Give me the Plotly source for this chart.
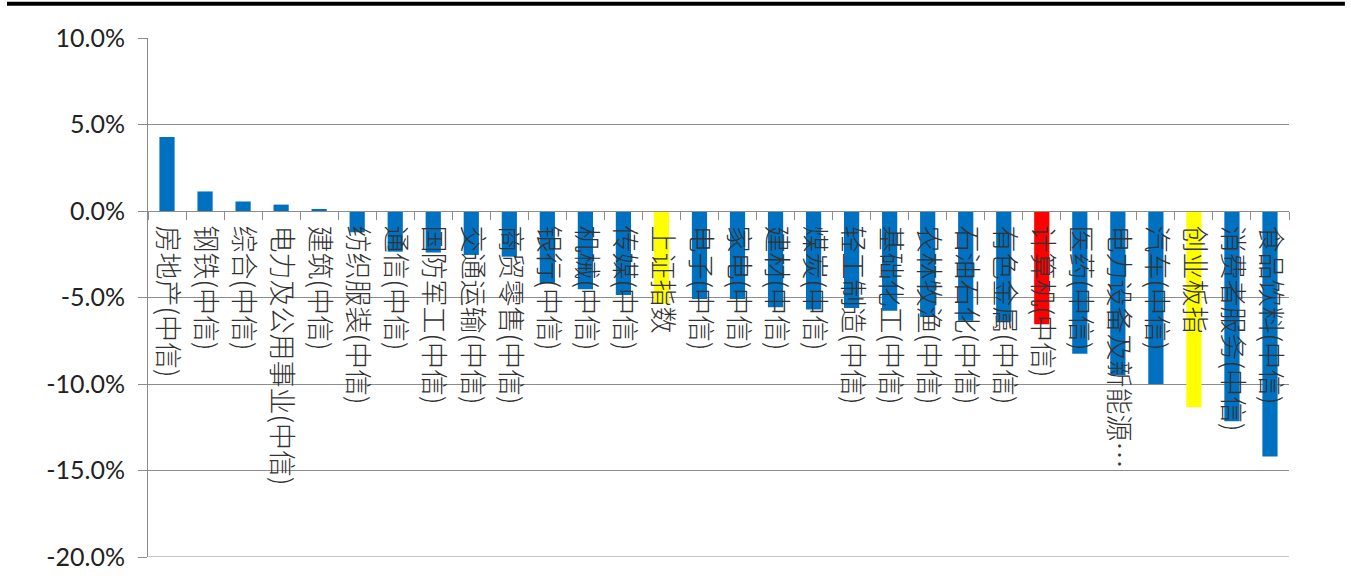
import plotly.graph_objects as go

categories = [
    "房地产(中信)", "钢铁(中信)", "综合(中信)", "电力及公用事业(中信)", "建筑(中信)",
    "纺织服装(中信)", "通信(中信)", "国防军工(中信)", "交通运输(中信)", "商贸零售(中信)",
    "银行(中信)", "机械(中信)", "传媒(中信)", "上证指数", "电子(中信)",
    "家电(中信)", "建材(中信)", "煤炭(中信)", "轻工制造(中信)", "基础化工(中信)",
    "农林牧渔(中信)", "石油石化(中信)", "有色金属(中信)", "计算机(中信)", "医药(中信)",
    "电力设备及新能源…", "汽车(中信)", "创业板指", "消费者服务(中信)", "食品饮料(中信)",
]
values = [
    4.28, 1.13, 0.55, 0.37, 0.08,
    -1.23, -2.35, -2.40, -2.54, -2.64,
    -4.17, -4.52, -4.85, -5.36, -5.08,
    -5.08, -5.56, -5.70, -5.60, -5.77,
    -6.12, -6.35, -6.40, -6.55, -8.25,
    -9.50, -10.00, -11.35, -12.16, -14.19,
]
colors = ["#0070C0"] * len(categories)
colors[categories.index("上证指数")] = "#FFFF00"
colors[categories.index("创业板指")] = "#FFFF00"
colors[categories.index("计算机(中信)")] = "#FF0000"

y_tickvals = [10, 5, 0, -5, -10, -15, -20]
y_ticktext = ["10.0%", "5.0%", "0.0%", "-5.0%", "-10.0%", "-15.0%", "-20.0%"]
y_min, y_max = -20, 10

fig = go.Figure(
    go.Bar(x=categories, y=values, marker=dict(color=colors, line=dict(width=0)))
)

fig.update_layout(
    width=1351,
    height=586,
    margin=dict(l=148, r=62, t=38, b=29),
    paper_bgcolor="white",
    plot_bgcolor="white",
    bargap=0.6,
    showlegend=False,
    font=dict(family="Noto Sans CJK SC", color="#1a1a1a"),
)

fig.update_yaxes(
    range=[y_min, y_max],
    tickvals=y_tickvals,
    ticktext=y_ticktext,
    showgrid=True,
    gridcolor="#8c8c8c",
    gridwidth=1,
    zeroline=False,
    showline=True,
    linecolor="#8c8c8c",
    linewidth=1,
    ticks="outside",
    ticklen=9,
    tickcolor="#8c8c8c",
    tickfont=dict(family="Lato", size=25, color="#222222"),
    ticklabelstandoff=8,
)

fig.update_xaxes(
    type="category",
    anchor="free",
    position=(0 - y_min) / (y_max - y_min),
    showline=True,
    linecolor="#8c8c8c",
    linewidth=1,
    showgrid=False,
    ticks="outside",
    tickson="boundaries",
    ticklen=8,
    tickcolor="#8c8c8c",
    tickangle=90,
    tickfont=dict(family="Noto Sans CJK SC", size=27, color="#333333", weight=300),
    ticklabelstandoff=8,
    automargin=False,
)

# bottom gridline at the range edge
fig.add_shape(
    type="line", xref="paper", yref="y",
    x0=0, x1=1, y0=y_min, y1=y_min,
    line=dict(color="#8c8c8c", width=1),
)

# thick black rule across the top of the picture
fig.add_shape(
    type="line", xref="paper", yref="paper",
    x0=-0.1236, x1=1.049, y0=1.066, y1=1.066,
    line=dict(color="black", width=4),
)

fig.write_html("out.html")
